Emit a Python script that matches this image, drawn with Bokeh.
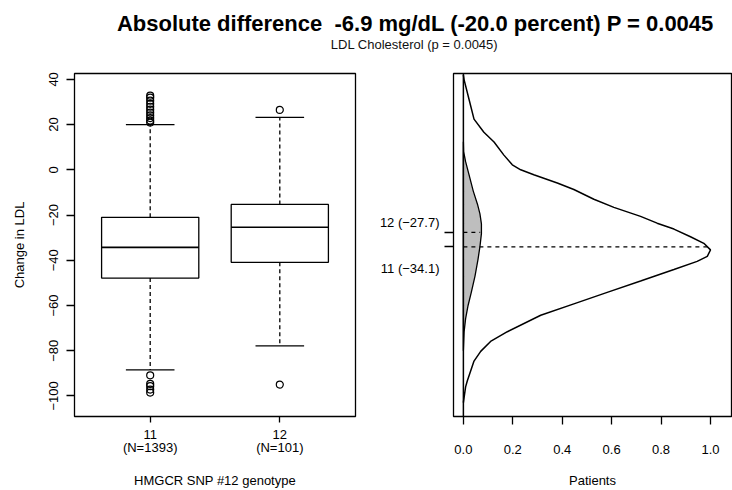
from bokeh.plotting import figure
from bokeh.models import (Range1d, FixedTicker, ColumnDataSource, Span, LinearAxis)
from bokeh.layouts import column, row
from bokeh.embed import file_html
from bokeh.resources import INLINE
from bokeh.core.properties import value

FONT = "Liberation Sans"

# ---- data -------------------------------------------------------------
title_main = "Absolute difference\u00a0 -6.9 mg/dL (-20.0 percent) P = 0.0045"
title_sub = "LDL Cholesterol (p = 0.0045)"

genotypes = ["11", "12"]
n_patients = [1393, 101]

# box statistics of LDL change per genotype
q1 = [-47.9, -40.9]
medians = [-34.3, -25.4]
q3 = [-21.0, -15.3]
whisker_low = [-88.5, -77.9]
whisker_high = [20.0, 23.2]
outliers_11 = [20.9, 21.8, 22.9, 24.1, 25.3, 26.6, 27.9, 29.2, 30.6, 31.9, 32.8,
               -90.9, -94.7, -95.7, -97.2, -98.5]
outliers_12 = [26.5, -95.0]

# relative density of patients along the LDL change axis
ldl_grid_11 = [42.0, 39.8, 31.1, 22.4, 16.6, 12.3, 6.5, 2.2, 0.0, -2.2, -5.8, -8.7,
               -13.0, -16.6, -20.6, -23.6, -26.2, -29.6, -32.5, -35.4, -38.3,
               -40.5, -44.1, -49.2, -54.2, -59.3, -64.3, -71.6, -75.9, -80.3,
               -84.6, -93.3, -96.0, -103.0]
dens_11 = [0.0, 0.003, 0.023, 0.043, 0.083, 0.124, 0.164, 0.198, 0.232, 0.285,
           0.380, 0.447, 0.528, 0.609, 0.717, 0.784, 0.852, 0.919, 0.973, 1.0,
           0.987, 0.946, 0.852, 0.717, 0.582, 0.447, 0.313, 0.178, 0.110, 0.070,
           0.043, 0.016, 0.009, 0.0]
ldl_grid_12 = [12.4, 8.0, 3.6, -2.2, -9.4, -15.2, -19.5, -23.9, -28.2, -34.0,
               -39.7, -47.0, -54.2, -60.0, -65.8, -71.6, -80.0]
dens_12 = [0.0, 0.001, 0.009, 0.023, 0.040, 0.057, 0.067, 0.073, 0.073, 0.067,
           0.059, 0.047, 0.032, 0.019, 0.009, 0.003, 0.0]

# group centres marked on the density panel
centre_values = [-34.1, -27.7]
centre_density = [1.0, 0.068]

y_ticks = [-100, -80, -60, -40, -20, 0, 20, 40]
x_ticks_right = [0.0, 0.2, 0.4, 0.6, 0.8, 1.0]

Y_LO, Y_HI = -109.1, 42.6
LW = 1.3


def style_axis(ax):
    ax.axis_line_color = None
    ax.major_tick_in = 0
    ax.minor_tick_line_color = None
    ax.major_label_text_font = FONT
    ax.major_label_text_font_size = "13px"
    ax.major_label_text_color = "black"
    ax.axis_label_text_font = FONT
    ax.axis_label_text_font_size = "13px"
    ax.axis_label_text_font_style = "normal"
    ax.axis_label_text_color = "black"
    ax.major_tick_line_color = "black"
    ax.major_tick_line_width = LW


def style_panel(p):
    style_axis(p.xaxis[0])
    style_axis(p.yaxis[0])
    p.grid.visible = False
    p.outline_line_color = "black"
    p.outline_line_width = LW
    p.background_fill_color = "white"
    p.border_fill_color = "white"


# ---- header -----------------------------------------------------------
head = figure(width=732, height=62, x_range=Range1d(0, 732), y_range=Range1d(0, 62),
              output_backend="svg", toolbar_location=None, min_border=0)
head.title = None
head.axis.visible = False
head.grid.visible = False
head.outline_line_color = None
head.text(x=[415], y=[39], text=[title_main], text_font=value(FONT),
          text_font_size="22px", text_font_style="bold", text_align="center",
          text_baseline="alphabetic", text_color="black")
head.text(x=[414], y=[17.7], text=[title_sub], text_font=value(FONT),
          text_font_size="13px", text_align="center",
          text_baseline="alphabetic", text_color="#111111")

# ---- left: box plots ----------------------------------------------------
left = figure(width=357, height=428, x_range=Range1d(0.416, 2.584),
              y_range=Range1d(Y_LO, Y_HI), output_backend="svg",
              toolbar_location=None, min_border_left=74, min_border_right=2,
              min_border_top=11, min_border_bottom=67)
style_panel(left)

pos = [1, 2]
half = 0.375
cap = 0.1875
box_src = ColumnDataSource(dict(
    x=pos, l=[p - half for p in pos], r=[p + half for p in pos],
    cl=[p - cap for p in pos], cr=[p + cap for p in pos],
    q1=q1, q3=q3, med=medians, lo=whisker_low, hi=whisker_high))

left.segment(x0="x", y0="q3", x1="x", y1="hi", source=box_src, line_color="black",
             line_width=LW, line_dash="4 3")
left.segment(x0="x", y0="q1", x1="x", y1="lo", source=box_src, line_color="black",
             line_width=LW, line_dash="4 3")
left.segment(x0="cl", y0="hi", x1="cr", y1="hi", source=box_src, line_color="black",
             line_width=LW)
left.segment(x0="cl", y0="lo", x1="cr", y1="lo", source=box_src, line_color="black",
             line_width=LW)
left.quad(left="l", right="r", bottom="q1", top="q3", source=box_src,
          fill_color="white", line_color="black", line_width=LW)
left.segment(x0="l", y0="med", x1="r", y1="med", source=box_src, line_color="black",
             line_width=LW + 0.3)

out_x = [1] * len(outliers_11) + [2] * len(outliers_12)
out_y = outliers_11 + outliers_12
left.scatter(x=out_x, y=out_y, marker="circle", size=7, fill_color=None,
             line_color="black", line_width=1.2)

# genotype names directly under the ticks
left.xaxis.ticker = FixedTicker(ticks=pos)
left.xaxis.major_label_overrides = {p: g for p, g in zip(pos, genotypes)}
left.xaxis.major_tick_out = 6
left.xaxis.major_label_standoff = 7

# group sizes on a second row
n_axis = LinearAxis(ticker=FixedTicker(ticks=pos))
style_axis(n_axis)
n_axis.major_tick_line_color = None
n_axis.major_tick_out = 0
n_axis.major_label_standoff = -2
n_axis.major_label_overrides = {p: f"(N={n})" for p, n in zip(pos, n_patients)}
n_axis.axis_label = "HMGCR SNP #12 genotype"
n_axis.axis_label_standoff = 15
left.add_layout(n_axis, "below")

left.yaxis.ticker = FixedTicker(ticks=y_ticks)
left.yaxis.major_label_orientation = "vertical"
left.yaxis.major_tick_out = 8
left.yaxis.major_label_standoff = 8
left.yaxis.axis_label = "Change in LDL"
left.yaxis.axis_label_standoff = 20

# ---- right: density of patients ----------------------------------------
right = figure(width=375, height=428, x_range=Range1d(-0.04, 1.085),
               y_range=Range1d(Y_LO, Y_HI), output_backend="svg",
               toolbar_location=None, min_border_left=96, min_border_right=1,
               min_border_top=11, min_border_bottom=67)
style_panel(right)

right.line(x=dens_11, y=ldl_grid_11, line_color="black", line_width=LW + 0.2)
right.patch(x=dens_12, y=ldl_grid_12, fill_color="#bebebe", line_color="black",
            line_width=LW)
right.add_layout(Span(location=0, dimension="height", line_color="black",
                      line_width=LW + 0.2))
right.segment(x0=[0, 0], y0=centre_values, x1=centre_density, y1=centre_values,
              line_color="black", line_width=LW, line_dash="4 4")

right.xaxis.ticker = FixedTicker(ticks=x_ticks_right)
right.xaxis.major_label_overrides = {t: f"{t:.1f}" for t in x_ticks_right}
right.xaxis.major_tick_out = 8
right.xaxis.major_label_standoff = 20
right.xaxis.axis_label = "Patients"
right.xaxis.axis_label_standoff = 16

# tick marks at the group centres, without labels
right.yaxis.ticker = FixedTicker(ticks=centre_values)
right.yaxis.major_tick_out = 9
right.yaxis.major_label_standoff = 0
right.yaxis.major_label_overrides = {c: "" for c in centre_values}

# group labels, spread apart so they do not collide
label_shift = [-9.4, 4.6]
label_pos = [c + s for c, s in zip(centre_values, label_shift)]
group_axis = LinearAxis(ticker=FixedTicker(ticks=label_pos))
style_axis(group_axis)
group_axis.major_tick_line_color = None
group_axis.major_tick_out = 0
group_axis.major_label_standoff = 5
group_axis.major_label_overrides = {
    y: f"{g} ({c:.1f})".replace("-", "\u2212")
    for y, g, c in zip(label_pos, genotypes, centre_values)}
right.add_layout(group_axis, "left")

layout = column(head, row(left, right))
open("out.html", "w").write(file_html(layout, INLINE))
